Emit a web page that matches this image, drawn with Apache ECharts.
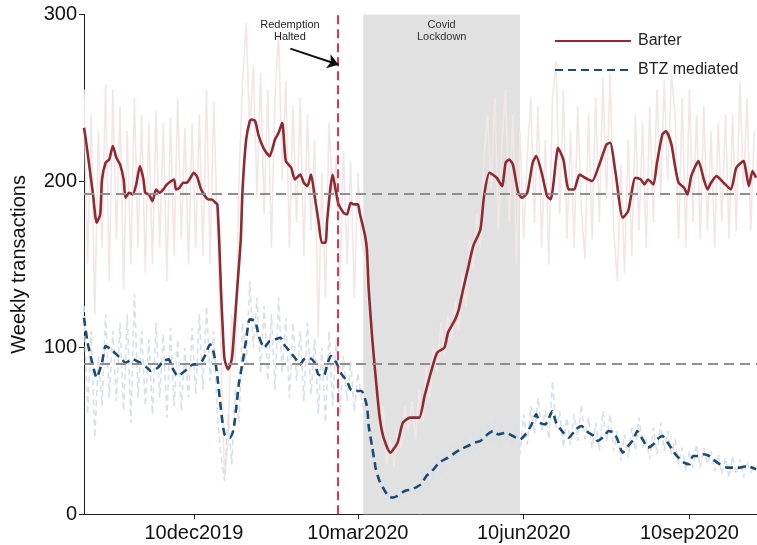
<!DOCTYPE html>
<html>
<head>
<meta charset="utf-8">
<script src="https://cdn.jsdelivr.net/npm/echarts@6/dist/echarts.min.js"></script>
<style>
  html, body { margin: 0; padding: 0; background: #fff; }
  #chart { width: 757px; height: 545px; }
</style>
</head>
<body>
<div id="chart"></div>
<script>
// Day 0 of the series is 10 Oct 2019; the x axis counts days from there.
const startDate = [2019, 9, 10];
const lastDay = 373.5;

// Smoothed weekly transactions (day index, value)
const barterDays = [0,1,5,7,9,10,12,14,16,18,20,22,23,25,27,29,31,33,34,36,38,40,42,44,46,50,51,53,55,57,61,63,65,69,71,73,74,75,76,77,78,80,82,83,85,87,88,90,92,93,95,97,100,103,106,108,110,112,115,117,120,122,124,126,128,130,132,134,135,138,141,144,146,148,150,152,153,156,157,158,160,162,164,166,170,174,177,181,186,189,193,196,200,202,206,208,210,213,216,220,222,225,229,232,234,236,238,241,243,246,249,251,254,257,259,262,263,266,269,272,275,278,282,286,290,292,295,299,302,306,309,311,313,316,318,321,323,326,328,330,333,335,337,341,344,346,348,351,355,359,362,366,369,371,373];
const barterSmooth = [232,225,192,175,180,201,211,213,221,214,210,201,190,193,192,198,209,201,193,192,188,195,193,195,198,201,195,196,199,199,205,202,195,189,189,187,186,165,135,111,93,87,93,105,135,165,195,225,236,237,236,227,219,215,225,229,235,212,208,201,204,199,197,204,191,177,163,163,177,204,187,181,180,187,186,186,181,167,159,135,105,81,59,47,37,43,55,58,58,71,87,97,100,109,117,123,133,147,161,171,191,205,202,197,211,213,210,193,190,193,211,215,205,191,189,213,220,213,195,195,204,202,200,210,222,223,205,178,182,202,201,198,201,198,211,228,230,222,209,199,196,192,203,212,201,195,199,203,199,195,208,212,197,206,202];

const btzDays = [0,2,5,7,10,12,15,18,21,23,27,31,35,37,41,44,47,49,52,56,59,61,64,67,70,72,74,76,78,81,83,85,86,88,90,92,95,97,100,103,106,109,111,114,117,120,122,125,128,130,133,135,137,140,143,146,148,151,154,157,158,160,162,164,167,169,171,174,178,182,187,190,194,197,202,206,209,213,217,220,224,227,230,234,238,242,245,248,251,253,256,260,262,266,269,273,276,280,283,285,289,291,294,296,299,302,305,307,310,313,316,318,321,324,327,329,333,336,338,341,344,347,349,353,357,361,364,368,373];
const btzSmooth = [118,103,89,82,91,101,99,96,93,91,93,91,88,86,88,92,93,88,83,86,89,90,90,95,102,97,83,63,48,46,51,69,79,91,105,117,116,107,100,104,105,106,102,98,94,90,93,94,91,84,83,90,95,91,84,80,75,74,74,65,53,40,27,20,14,11,10,11,14,15,18,23,27,31,34,37,39,41,43,44,48,50,48,49,47,45,48,53,60,55,54,62,55,49,46,51,53,49,47,44,47,50,49,45,37,41,45,50,45,40,42,45,47,43,38,35,31,30,35,35,36,35,33,30,28,28,28,29,27];

// Unsmoothed values, one every rawStep days from day 0
const rawStep = 2;
const barterRaw = [
  255,150,240,120,230,160,258,140,255,165,
  245,135,230,150,250,160,240,145,235,150,
  242,160,235,140,238,155,250,165,232,150,
  235,160,240,155,255,150,248,170,100,22,
  45,120,90,200,260,295,230,270,190,265,
  180,255,160,250,290,200,260,160,245,175,
  250,155,240,170,225,106,205,130,235,190,
  215,136,218,150,212,130,205,165,150,120,
  95,90,50,65,30,45,28,50,40,65,
  50,68,45,75,55,88,70,100,85,115,
  95,120,105,128,110,145,125,165,148,180,
  160,215,240,195,250,170,225,255,175,240,
  150,230,165,215,250,175,245,160,225,150,
  250,272,180,255,165,230,160,245,185,153,
  240,165,250,175,262,190,265,170,140,210,
  145,225,155,240,170,235,160,245,175,255,
  190,260,200,265,240,165,250,160,255,175,
  240,165,245,170,230,160,235,175,240,165,
  240,170,260,195,250,170,230
];
const btzRaw = [
  125,60,110,46,95,65,120,70,110,68,
  115,62,120,55,132,70,110,65,105,60,
  115,70,108,58,112,65,105,62,100,70,
  112,72,120,75,125,80,110,60,35,20,
  60,30,75,55,115,90,140,100,130,85,
  125,80,120,75,130,85,118,70,115,80,
  110,68,115,72,105,60,100,55,110,65,
  105,60,95,68,92,62,85,70,60,45,
  50,22,28,12,20,8,14,6,15,8,
  20,10,22,12,25,16,30,20,35,24,
  38,28,42,30,45,33,48,35,50,37,
  52,40,55,42,58,40,55,44,50,38,
  55,36,60,42,65,48,70,50,62,45,
  80,52,62,40,58,42,60,44,66,45,
  58,40,55,38,62,44,60,38,50,32,
  48,34,52,38,58,40,45,33,52,36,
  55,38,50,36,45,30,40,26,38,28,
  42,28,40,30,38,26,36,24,34,22,
  35,24,33,22,32,25,30
];

// Reference levels and events (day indices)
const meanLevels = [192.7, 90.4];
const redemptionDay = 141;
const lockdownDays = [155, 242];
// Tick days: 10dec2019, 10mar2020, 10jun2020, 10sep2020
const xTickDays = [61, 152, 244, 336];
const monthAbbr = ['jan','feb','mar','apr','may','jun','jul','aug','sep','oct','nov','dec'];

const pairs = (days, vals) => days.map((d, i) => [d, vals[i]]);
const rawPairs = vals => vals.map((v, i) => [i * rawStep, v]);
const dayLabel = d => {
  const dt = new Date(startDate[0], startDate[1], startDate[2] + Math.round(d));
  return dt.getDate() + monthAbbr[dt.getMonth()] + dt.getFullYear();
};

const FONT = 'Liberation Sans, Arial, sans-serif';
const chart = echarts.init(document.getElementById('chart'), null, { renderer: 'canvas' });

chart.setOption({
  animation: false,
  backgroundColor: '#ffffff',
  textStyle: { fontFamily: FONT },
  grid: { left: 84, right: 0, top: 14.5, bottom: 30.7, containLabel: false },
  legend: {
    data: ['Barter', 'BTZ mediated'],
    orient: 'vertical',
    left: 549, top: 28,
    itemWidth: 76, itemHeight: 14, itemGap: 13,
    itemStyle: { opacity: 0 },
    textStyle: { fontSize: 16, color: '#222', fontFamily: FONT, padding: [0, 0, 0, 2] }
  },
  xAxis: {
    type: 'value',
    min: 0, max: lastDay,
    splitLine: { show: false },
    axisLine: { show: true, onZero: false, lineStyle: { color: '#222', width: 1 } },
    axisTick: { show: true, customValues: xTickDays, length: 5, lineStyle: { color: '#222' } },
    axisLabel: {
      customValues: xTickDays,
      margin: 9, fontSize: 20, color: '#111', fontFamily: FONT,
      formatter: v => dayLabel(v)
    }
  },
  yAxis: {
    type: 'value', min: 0, max: 300, interval: 100,
    name: 'Weekly transactions', nameLocation: 'middle', nameGap: 55, nameRotate: 90,
    nameTextStyle: { fontSize: 20, color: '#111', fontFamily: FONT },
    splitLine: { show: false },
    axisLine: { show: true, lineStyle: { color: '#222', width: 1 } },
    axisTick: { show: true, length: 5, lineStyle: { color: '#222' } },
    axisLabel: { margin: 7, fontSize: 20, color: '#111', fontFamily: FONT }
  },
  series: [
    {
      name: 'lockdown', type: 'line', data: [], z: 1, silent: true,
      markArea: {
        silent: true,
        itemStyle: { color: '#e1e1e1' },
        label: { show: true, position: 'insideTop', distance: 4, formatter: 'Covid\nLockdown',
                 fontSize: 11, lineHeight: 12, color: '#333', fontFamily: FONT },
        data: [[{ xAxis: lockdownDays[0] }, { xAxis: lockdownDays[1] }]]
      }
    },
    {
      name: 'Barter raw', type: 'line', data: rawPairs(barterRaw), z: 2, silent: true,
      symbol: 'none', lineStyle: { color: '#f2e7e7', width: 1.6 }
    },
    {
      name: 'BTZ raw', type: 'line', data: rawPairs(btzRaw), z: 2, silent: true,
      symbol: 'none', lineStyle: { color: '#d8e0e8', width: 1.6, type: [6, 4] }
    },
    {
      name: 'levels', type: 'line', data: [], z: 3, silent: true,
      markLine: {
        silent: true, symbol: ['none', 'none'], label: { show: false },
        lineStyle: { color: '#8e8e8e', width: 2, type: [10, 6] },
        data: meanLevels.map(v => ({ yAxis: v }))
      }
    },
    {
      name: 'Barter', type: 'line', data: pairs(barterDays, barterSmooth), z: 4,
      symbol: 'none', smooth: 0.2, color: '#8f2a33',
      lineStyle: { color: '#8f2a33', width: 2.6 }
    },
    {
      name: 'BTZ mediated', type: 'line', data: pairs(btzDays, btzSmooth), z: 4,
      symbol: 'none', smooth: 0.2, color: '#1c4a74',
      lineStyle: { color: '#1c4a74', width: 2.6, type: [8, 5] }
    },
    {
      name: 'events', type: 'line', data: [], z: 5, silent: true,
      markLine: {
        silent: true, symbol: ['none', 'none'], label: { show: false },
        lineStyle: { color: '#dc1f45', width: 1.8, type: [9, 5] },
        data: [{ xAxis: redemptionDay }]
      }
    },
    {
      name: 'note', type: 'line', data: [], z: 6, silent: true,
      markLine: {
        silent: true, symbol: ['none', 'arrow'], symbolSize: 11,
        label: { show: false },
        lineStyle: { color: '#111', width: 2, type: 'solid' },
        data: [[{ coord: [114.5, 279.5] }, { coord: [141.3, 269.8] }]]
      },
      markPoint: {
        silent: true, symbol: 'circle', symbolSize: 1,
        itemStyle: { color: 'rgba(0,0,0,0)' },
        label: { show: true, position: 'inside', formatter: 'Redemption\nHalted',
                 fontSize: 11, lineHeight: 12, color: '#222', fontFamily: FONT },
        data: [{ coord: [114.3, 290] }]
      }
    }
  ]
});
</script>
</body>
</html>
